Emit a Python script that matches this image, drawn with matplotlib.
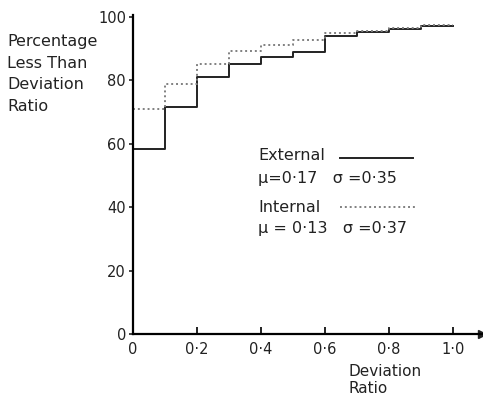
import matplotlib.pyplot as plt

# deviation ratio bin edges and cumulative percentages
edges = [0.0, 0.1, 0.2, 0.3, 0.4, 0.5, 0.6, 0.7, 0.8, 0.9, 1.0]
external = [58.4, 71.5, 81.2, 85.0, 87.5, 89.0, 94.0, 95.3, 96.3, 97.2]
internal = [71.0, 78.8, 85.0, 89.3, 91.0, 92.7, 94.8, 95.5, 96.6, 97.4]

x_ticks = [0, 0.2, 0.4, 0.6, 0.8, 1.0]
x_labels = ["0", "0·2", "0·4", "0·6", "0·8", "1·0"]
y_ticks = [0, 20, 40, 60, 80, 100]

plt.rcParams['font.family'] = ['DejaVu Sans']

fig = plt.figure(figsize=(4.83, 3.98), dpi=100)
ax = fig.add_axes([0.2754, 0.1608, 0.7226, 0.8015])

ax.step(edges, external + [external[-1]], where='post', color='#222222', lw=1.4)
ax.step(edges, internal + [internal[-1]], where='post', color='#808080', lw=1.4,
        linestyle=(0, (1, 1.5)))

ax.set_xlim(0, 1.09)
ax.set_ylim(0, 100.6)
for s in ['top', 'right']:
    ax.spines[s].set_visible(False)
ax.spines['left'].set_linewidth(1.6)
ax.spines['bottom'].set_linewidth(1.6)
ax.plot(1.0, 0, marker='>', transform=ax.get_yaxis_transform(), color='#222222',
        markersize=6, clip_on=False)

ax.set_xticks(x_ticks)
ax.set_xticklabels(x_labels)
ax.set_yticks(y_ticks)
ax.tick_params(axis='x', direction='in', length=5, width=1.4, labelsize=10.5, pad=6,
               colors='#222222')
ax.tick_params(axis='y', direction='out', length=3, width=1.2, labelsize=10.5, pad=2,
               colors='#222222')

fig.text(7 / 483, 1 - 34 / 398, "Percentage\nLess Than\nDeviation\nRatio",
         fontsize=11.5, va='top', ha='left', linespacing=1.55, color='#222222')
fig.text(349 / 483, 1 - 364 / 398, "Deviation\nRatio", fontsize=11, va='top',
         ha='left', linespacing=1.2, color='#222222')

# legend drawn as text and short lines
fig.text(258 / 483, 1 - 156 / 398, "External", fontsize=11.5, va='center', color='#222222')
fig.text(258 / 483, 1 - 178 / 398, "μ=0·17   σ =0·35", fontsize=11.5, va='center',
         color='#222222')
fig.text(258 / 483, 1 - 207 / 398, "Internal", fontsize=11.5, va='center', color='#222222')
fig.text(258 / 483, 1 - 228 / 398, "μ = 0·13   σ =0·37", fontsize=11.5, va='center',
         color='#222222')
fig.add_artist(plt.Line2D([340 / 483, 413 / 483], [1 - 158 / 398, 1 - 158 / 398],
                          color='#222222', lw=1.4))
fig.add_artist(plt.Line2D([340 / 483, 415 / 483], [1 - 207 / 398, 1 - 207 / 398],
                          color='#808080', lw=1.4, linestyle=(0, (1, 1.5))))

fig.savefig('out.png', dpi=100)
